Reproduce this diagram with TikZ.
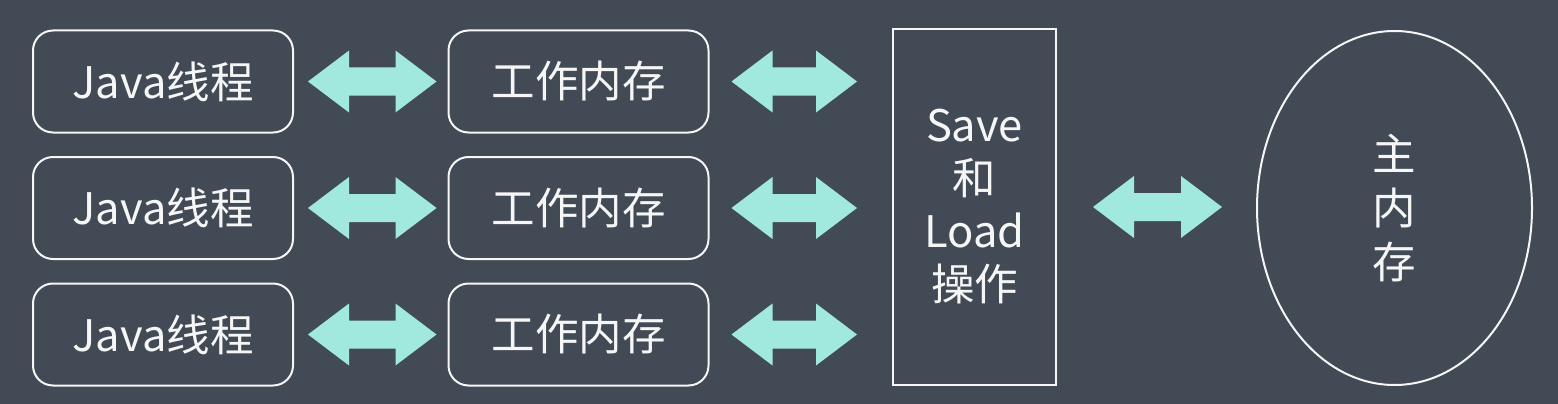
\documentclass[tikz,border=0pt]{standalone}
\usepackage{fontspec}
\newfontfamily\cjk{Noto Sans CJK SC}
\usetikzlibrary{calc,shapes.geometric}
\definecolor{bg}{RGB}{66,74,86}
\definecolor{aqua}{RGB}{161,233,222}
\definecolor{fg}{RGB}{246,246,246}
\tikzset{
  basebox/.style={draw=fg, line width=2pt, outer sep=0pt, inner sep=0pt, text=fg,
    font=\cjk\fontsize{43.5}{53}\selectfont, align=center},
  rbox/.style={basebox, rounded corners=20pt, minimum width=260pt, minimum height=102pt},
  opbox/.style={basebox, minimum width=163pt, minimum height=355pt},
  membox/.style={basebox, ellipse, minimum width=275pt, minimum height=354pt,
    font=\cjk\fontsize{43.5}{54}\selectfont},
  arrowfill/.style={fill=aqua},
}
\newcommand\biarrow[4]{%
  \fill[arrowfill] let \p1=($(#1.east)+(#3,0)$), \p2=($(#2.west)-(#4,0)$) in
    (\x1,\y1) -- (\x1+41pt,\y1+31pt) -- (\x1+41pt,\y1+14pt) -- (\x2-41pt,\y1+14pt)
    -- (\x2-41pt,\y1+31pt) -- (\x2,\y1) -- (\x2-41pt,\y1-31pt) -- (\x2-41pt,\y1-14pt)
    -- (\x1+41pt,\y1-14pt) -- (\x1+41pt,\y1-31pt) -- cycle;}
\begin{document}
\begin{tikzpicture}[x=1pt,y=-1pt]
  \fill[bg] (0,0) rectangle (1558,404);
  \node[rbox] (j1) at (163,81.5) {Java线程};
  \node[rbox] (j2) at (163,208) {Java线程};
  \node[rbox] (j3) at (163,334.5) {Java线程};
  \node[rbox] (w1) at (578.5,81.5) {工作内存};
  \node[rbox] (w2) at (578.5,208) {工作内存};
  \node[rbox] (w3) at (578.5,334.5) {工作内存};
  \node[opbox] (op) at (974.5,207) {Save\\和\\Load\\操作};
  \node[membox] (mem) at (1394.5,208) {主\\内\\存};
  \biarrow{j1}{w1}{15}{12}
  \biarrow{j2}{w2}{15}{12}
  \biarrow{j3}{w3}{15}{12}
  \biarrow{w1}{op}{23}{36}
  \biarrow{w2}{op}{23}{36}
  \biarrow{w3}{op}{23}{36}
  \biarrow{op}{mem}{37}{35}
\end{tikzpicture}
\end{document}
